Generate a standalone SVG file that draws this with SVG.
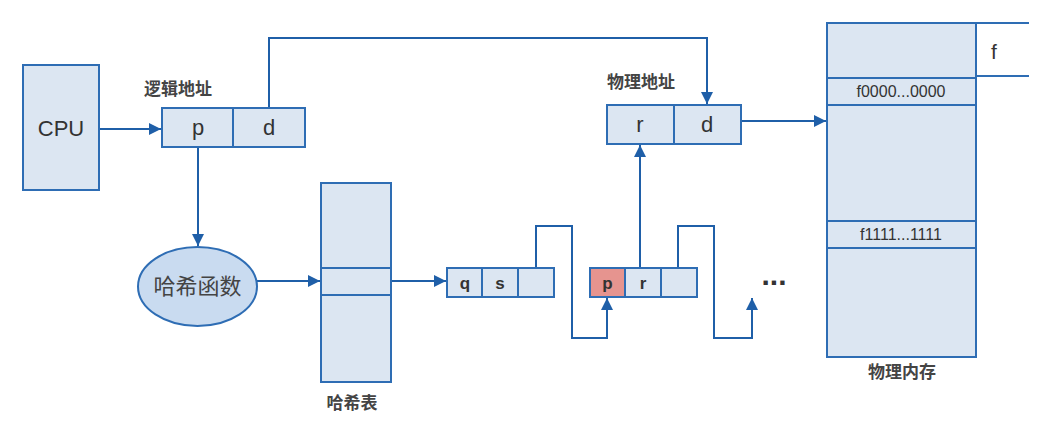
<svg xmlns="http://www.w3.org/2000/svg" width="1055" height="432" viewBox="0 0 1055 432">
<defs>
<marker id="ah" viewBox="0 0 12 12" refX="12" refY="6" markerWidth="12" markerHeight="12" markerUnits="userSpaceOnUse" orient="auto">
<path d="M0,0 L12,6 L0,12 z" fill="#1F5FA8"/>
</marker>
<style>
.box{fill:#DCE6F2;stroke:#2E6DB4;stroke-width:2}
.ln{fill:none;stroke:#2E6DB4;stroke-width:2}
.cn{fill:none;stroke:#1F5FA8;stroke-width:2}
.t{font-family:"Liberation Sans",Arial,sans-serif;fill:#333;text-anchor:middle}
.cj{font-family:"Liberation Serif","Noto Sans CJK SC",serif;fill:#444;font-weight:bold;text-anchor:middle}
</style>
</defs>
<rect width="1055" height="432" fill="#fff"/>
<g id="connectors">
<line class="cn" x1="99" y1="129" x2="161" y2="129" marker-end="url(#ah)"/>
<polyline class="cn" points="269,108 269,38 707,38 707,104" marker-end="url(#ah)"/>
<line class="cn" x1="198" y1="147" x2="198" y2="246" marker-end="url(#ah)"/>
<line class="cn" x1="257" y1="281" x2="320" y2="281" marker-end="url(#ah)"/>
<line class="cn" x1="391" y1="281" x2="446" y2="281" marker-end="url(#ah)"/>
<polyline class="cn" points="536,268 536,226 572,226 572,338 607,338 607,298" marker-end="url(#ah)"/>
<line class="cn" x1="640" y1="268" x2="640" y2="145" marker-end="url(#ah)"/>
<polyline class="cn" points="678,268 678,226 714,226 714,338 752,338 752,298" marker-end="url(#ah)"/>
<line class="cn" x1="741" y1="121" x2="826" y2="121" marker-end="url(#ah)"/>
</g>
<g id="cpu">
<rect class="box" x="23" y="65" width="76" height="125"/>
<text class="t" x="61" y="136" font-size="22">CPU</text>
</g>
<g id="logical-address">
<text class="cj" x="178" y="95" font-size="17">逻辑地址</text>
<rect class="box" x="162" y="108" width="143" height="39"/>
<line class="ln" x1="233" y1="108" x2="233" y2="147"/>
<text class="t" x="198" y="135" font-size="22">p</text>
<text class="t" x="269" y="135" font-size="22">d</text>
</g>
<g id="hash-function">
<ellipse cx="197.5" cy="286.5" rx="59.5" ry="39.5" fill="#C9DBF0" stroke="#2E6DB4" stroke-width="2"/>
<text class="cj" x="197.5" y="294" font-size="22" style="font-weight:normal">哈希函数</text>
</g>
<g id="hash-table">
<rect class="box" x="321" y="183" width="70" height="199"/>
<line class="ln" x1="321" y1="268" x2="391" y2="268"/>
<line class="ln" x1="321" y1="295" x2="391" y2="295"/>
<text class="cj" x="352" y="409" font-size="17">哈希表</text>
</g>
<g id="node-qs">
<rect class="box" x="447" y="268" width="107" height="29"/>
<line class="ln" x1="482" y1="268" x2="482" y2="297"/>
<line class="ln" x1="518" y1="268" x2="518" y2="297"/>
<text class="t" x="465" y="289" font-size="17" font-weight="bold">q</text>
<text class="t" x="500" y="289" font-size="17" font-weight="bold">s</text>
</g>
<g id="node-pr">
<rect class="box" x="590" y="268" width="107" height="29"/>
<rect x="590" y="268" width="35" height="29" fill="#E6948F" stroke="#2E6DB4" stroke-width="2"/>
<line class="ln" x1="661" y1="268" x2="661" y2="297"/>
<text class="t" x="607.5" y="289" font-size="17" font-weight="bold">p</text>
<text class="t" x="643" y="289" font-size="17" font-weight="bold">r</text>
</g>
<g id="ellipsis">
<text class="t" x="774" y="285" font-size="30" font-weight="bold" fill="#222">...</text>
</g>
<g id="physical-address">
<text class="cj" x="641" y="88" font-size="17">物理地址</text>
<rect class="box" x="607" y="105" width="134" height="39"/>
<line class="ln" x1="674" y1="105" x2="674" y2="144"/>
<text class="t" x="640" y="132" font-size="22">r</text>
<text class="t" x="707" y="132" font-size="22">d</text>
</g>
<g id="physical-memory">
<rect class="box" x="827" y="23" width="149" height="334"/>
<line class="ln" x1="827" y1="78" x2="976" y2="78"/>
<line class="ln" x1="827" y1="105" x2="976" y2="105"/>
<line class="ln" x1="827" y1="221" x2="976" y2="221"/>
<line class="ln" x1="827" y1="248" x2="976" y2="248"/>
<line class="ln" x1="976" y1="23" x2="1029" y2="23"/>
<line class="ln" x1="976" y1="76" x2="1029" y2="76"/>
<text class="t" x="994" y="59" font-size="21" text-anchor="start">f</text>
<text class="t" x="901" y="97" font-size="16">f0000...0000</text>
<text class="t" x="901" y="240" font-size="16">f1111...1111</text>
<text class="cj" x="902" y="378" font-size="17">物理内存</text>
</g>
</svg>
